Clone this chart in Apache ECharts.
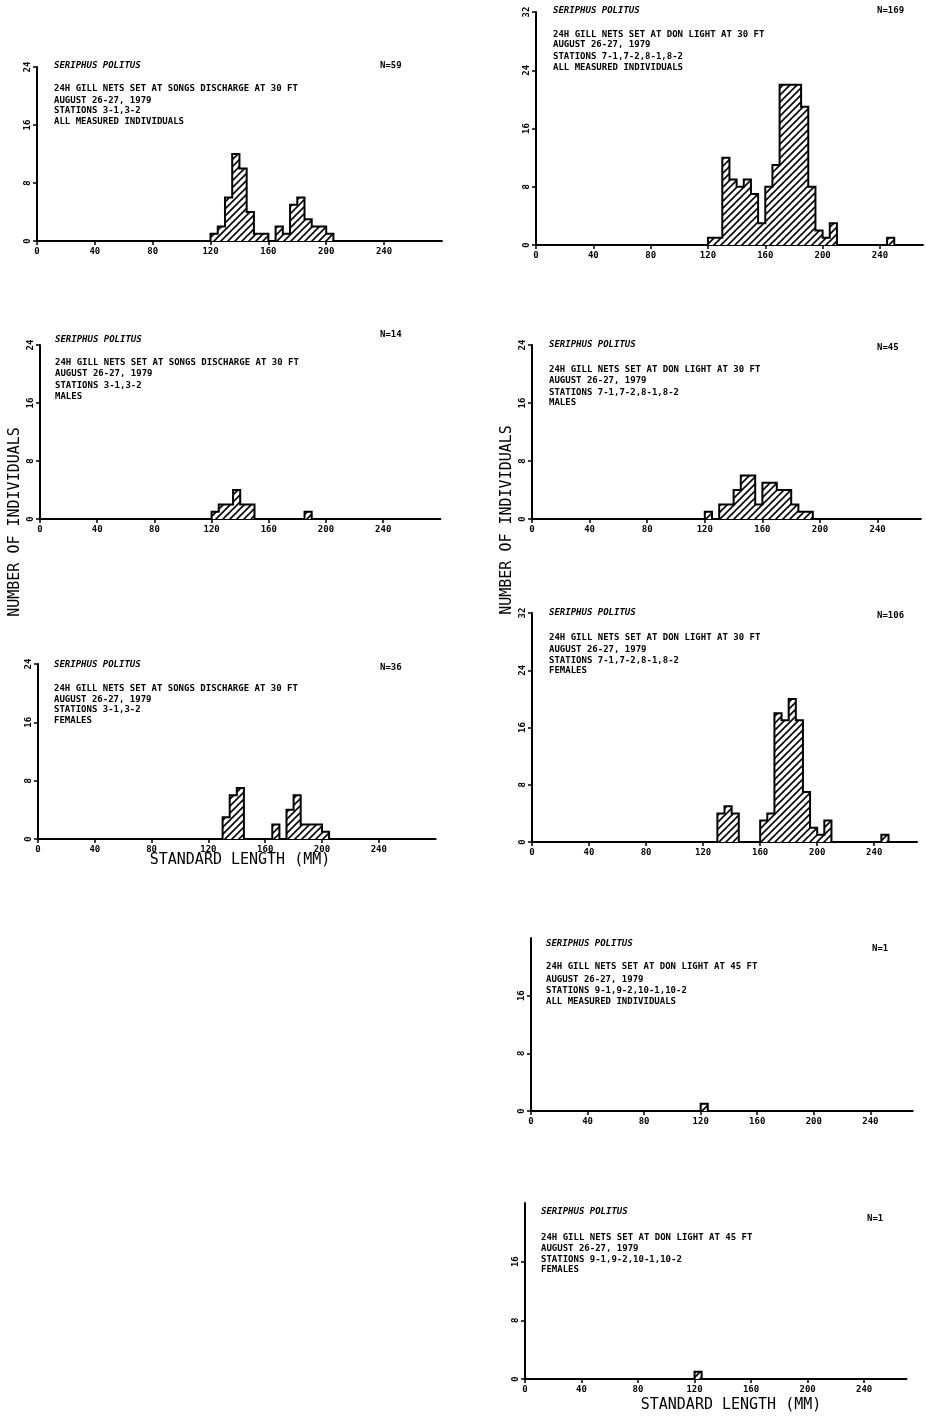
<!DOCTYPE html>
<html>
<head>
<meta charset="utf-8">
<script src="https://cdn.jsdelivr.net/npm/echarts@6/dist/echarts.min.js"></script>
<style>
  html, body { margin: 0; padding: 0; background: #fff; }
  #chart { width: 926px; height: 1417px; }
</style>
</head>
<body>
<div id="chart"></div>
<script>
// Length-frequency histograms, 5 mm standard-length bins.
const BIN = 5;

// SONGS discharge, 30 ft
const songsAllStarts    = [120,125,130,135,140,145,150,155,165,170,175,180,185,190,195,200];
const songsAllCounts    = [1,2,6,12,10,4,1,1,2,1,5,6,3,2,2,1];
const songsMaleStarts   = [120,125,130,135,140,145,185];
const songsMaleCounts   = [1,2,2,4,2,2,1];
const songsFemaleStarts = [130,135,140,165,175,180,185,190,195,200];
const songsFemaleCounts = [3,6,7,2,4,6,2,2,2,1];

// Don Light, 30 ft
const don30AllStarts    = [120,125,130,135,140,145,150,155,160,165,170,175,180,185,190,195,200,205,245];
const don30AllCounts    = [1,1,12,9,8,9,7,3,8,11,22,22,22,19,8,2,1,3,1];
const don30MaleStarts   = [120,130,135,140,145,150,155,160,165,170,175,180,185,190];
const don30MaleCounts   = [1,2,2,4,6,6,2,5,5,4,4,2,1,1];
const don30FemaleStarts = [130,135,140,160,165,170,175,180,185,190,195,200,205,245];
const don30FemaleCounts = [4,5,4,3,4,18,17,20,17,7,2,1,3,1];

// Don Light, 45 ft
const don45AllStarts    = [120];
const don45AllCounts    = [1];
const don45FemaleStarts = [120];
const don45FemaleCounts = [1];

// Axis tick labels
const xTickValues  = [0,40,80,120,160,200,240];
const yTicks24     = [0,8,16,24];
const yTicks32     = [0,8,16,24,32];
const yTicks16     = [0,8,16];

// Panel captions
const species  = 'SERIPHUS POLITUS';
const songsSet = '24H GILL NETS SET AT SONGS DISCHARGE AT 30 FT';
const don30Set = '24H GILL NETS SET AT DON LIGHT AT 30 FT';
const don45Set = '24H GILL NETS SET AT DON LIGHT AT 45 FT';
const dateLine = 'AUGUST 26-27, 1979';
const songsSta = 'STATIONS 3-1,3-2';
const don30Sta = 'STATIONS 7-1,7-2,8-1,8-2';
const don45Sta = 'STATIONS 9-1,9-2,10-1,10-2';
const yTitle   = 'NUMBER OF INDIVIDUALS';
const xTitle   = 'STANDARD LENGTH (MM)';

// Layout of the eight panels
const panels = [
  { starts: songsAllStarts, counts: songsAllCounts, n: 'N=59',
    lines: [songsSet, dateLine, songsSta, 'ALL MEASURED INDIVIDUALS'],
    left: 37, top: 67, height: 174, xMax: 280, pxPerMm: 1.446, yMax: 24, yLabels: yTicks24,
    textX: 54, titleY: 66, nX: 380, nY: 66, lineY: [89, 100.5, 111, 122] },
  { starts: don30AllStarts, counts: don30AllCounts, n: 'N=169',
    lines: [don30Set, dateLine, don30Sta, 'ALL MEASURED INDIVIDUALS'],
    left: 536, top: 12, height: 233, xMax: 270, pxPerMm: 1.433, yMax: 32, yLabels: yTicks32,
    textX: 553, titleY: 11, nX: 877, nY: 11, lineY: [34.5, 45, 57, 68] },
  { starts: songsMaleStarts, counts: songsMaleCounts, n: 'N=14',
    lines: [songsSet, dateLine, songsSta, 'MALES'],
    left: 40, top: 345, height: 174, xMax: 280, pxPerMm: 1.43, yMax: 24, yLabels: yTicks24,
    textX: 55, titleY: 340, nX: 380, nY: 335, lineY: [362.5, 373.5, 385.5, 397] },
  { starts: don30MaleStarts, counts: don30MaleCounts, n: 'N=45',
    lines: [don30Set, dateLine, don30Sta, 'MALES'],
    left: 532, top: 345, height: 174, xMax: 270, pxPerMm: 1.44, yMax: 24, yLabels: yTicks24,
    textX: 549, titleY: 345, nX: 877, nY: 348, lineY: [370, 381, 392.5, 403] },
  { starts: songsFemaleStarts, counts: songsFemaleCounts, n: 'N=36',
    lines: [songsSet, dateLine, songsSta, 'FEMALES'],
    left: 38, top: 664, height: 175, xMax: 280, pxPerMm: 1.42, yMax: 24, yLabels: yTicks24,
    textX: 54, titleY: 665, nX: 380, nY: 668, lineY: [689, 699.5, 710, 721] },
  { starts: don30FemaleStarts, counts: don30FemaleCounts, n: 'N=106',
    lines: [don30Set, dateLine, don30Sta, 'FEMALES'],
    left: 532, top: 613, height: 229, xMax: 270, pxPerMm: 1.426, yMax: 32, yLabels: yTicks32,
    textX: 549, titleY: 613, nX: 877, nY: 616, lineY: [638, 650, 661, 671] },
  { starts: don45AllStarts, counts: don45AllCounts, n: 'N=1',
    lines: [don45Set, dateLine, don45Sta, 'ALL MEASURED INDIVIDUALS'],
    left: 531, top: 938, height: 173, xMax: 270, pxPerMm: 1.414, yMax: 24, yLabels: yTicks16,
    textX: 546, titleY: 944, nX: 872, nY: 949, lineY: [967, 980, 991, 1002] },
  { starts: don45FemaleStarts, counts: don45FemaleCounts, n: 'N=1',
    lines: [don45Set, dateLine, don45Sta, 'FEMALES'],
    left: 525, top: 1203, height: 176, xMax: 270, pxPerMm: 1.413, yMax: 24, yLabels: yTicks16,
    textX: 541, titleY: 1212, nX: 867, nY: 1219, lineY: [1238, 1249, 1260, 1270] }
];

// Diagonal hatch tile for the bar fill
function makeHatch() {
  const s = 7;
  const c = document.createElement('canvas');
  c.width = s; c.height = s;
  const g = c.getContext('2d');
  g.fillStyle = '#fff';
  g.fillRect(0, 0, s, s);
  g.strokeStyle = '#000';
  g.lineWidth = 1.6;
  g.beginPath();
  g.moveTo(-1, s + 1); g.lineTo(s + 1, -1);
  g.moveTo(-1, 1); g.lineTo(1, -1);
  g.moveTo(s - 1, s + 1); g.lineTo(s + 1, s - 1);
  g.stroke();
  return c;
}
const hatch = makeHatch();

// Turn bins into the outline points of a stepped histogram
function stepPoints(starts, counts) {
  const pts = [];
  let lastEnd = null;
  starts.forEach((s, i) => {
    if (lastEnd === null || lastEnd !== s) {
      if (lastEnd !== null) pts.push([lastEnd, 0]);
      pts.push([s, 0]);
    }
    pts.push([s, counts[i]]);
    lastEnd = s + BIN;
  });
  pts.push([lastEnd, 0]);
  return pts;
}

const tickFont = '"DejaVu Sans Mono", monospace';
const grids = [], xAxes = [], yAxes = [], series = [], graphics = [];

panels.forEach((p, i) => {
  grids.push({ left: p.left, top: p.top, width: p.xMax * p.pxPerMm, height: p.height, containLabel: false });
  xAxes.push({
    type: 'value', gridIndex: i, min: 0, max: p.xMax,
    axisLine: { show: true, onZero: false, lineStyle: { color: '#000', width: 2 } },
    axisTick: { show: true, length: 4, customValues: xTickValues, lineStyle: { color: '#000', width: 1.5 } },
    axisLabel: { customValues: xTickValues, color: '#000', fontFamily: tickFont, fontWeight: 'bold',
                 fontSize: 9, margin: 6 },
    splitLine: { show: false }
  });
  yAxes.push({
    type: 'value', gridIndex: i, min: 0, max: p.yMax,
    axisLine: { show: true, lineStyle: { color: '#000', width: 2 } },
    axisTick: { show: true, length: 4, customValues: p.yLabels, lineStyle: { color: '#000', width: 1.5 } },
    axisLabel: { customValues: p.yLabels, rotate: 90, color: '#000', fontFamily: tickFont,
                 fontWeight: 'bold', fontSize: 9, margin: 5 },
    splitLine: { show: false }
  });
  series.push({
    type: 'line', xAxisIndex: i, yAxisIndex: i,
    step: 'end', showSymbol: false, silent: true, animation: false,
    data: stepPoints(p.starts, p.counts),
    lineStyle: { color: '#000', width: 2, join: 'miter' },
    areaStyle: { color: { image: hatch, repeat: 'repeat' }, opacity: 1 },
    z: 3
  });

  const small = (text, x, y, italic) => ({
    type: 'text', x: x, y: y, silent: true,
    style: {
      text: text, fill: '#000',
      font: (italic ? 'italic ' : '') + 'bold 9px "DejaVu Sans Mono", monospace',
      align: 'left', verticalAlign: 'middle',
      textAlign: 'left', textVerticalAlign: 'middle'
    }
  });
  graphics.push(small(species, p.textX, p.titleY, true));
  graphics.push(small(p.n, p.nX, p.nY, false));
  p.lines.forEach((t, k) => graphics.push(small(t, p.textX, p.lineY[k], false)));
});

// Shared axis titles
const bigText = (text, x, y, rot) => ({
  type: 'text', x: x, y: y, rotation: rot || 0, silent: true,
  style: {
    text: text, fill: '#000', font: '15px "DejaVu Sans Mono", monospace',
    align: 'center', verticalAlign: 'middle',
    textAlign: 'center', textVerticalAlign: 'middle'
  }
});
graphics.push(bigText(yTitle, 15, 522, Math.PI / 2));
graphics.push(bigText(yTitle, 507, 520, Math.PI / 2));
graphics.push(bigText(xTitle, 240, 860));
graphics.push(bigText(xTitle, 731, 1405));

const chart = echarts.init(document.getElementById('chart'), null, { renderer: 'canvas' });
chart.setOption({
  backgroundColor: '#fff',
  animation: false,
  grid: grids,
  xAxis: xAxes,
  yAxis: yAxes,
  series: series,
  graphic: { elements: graphics }
});
</script>
</body>
</html>
